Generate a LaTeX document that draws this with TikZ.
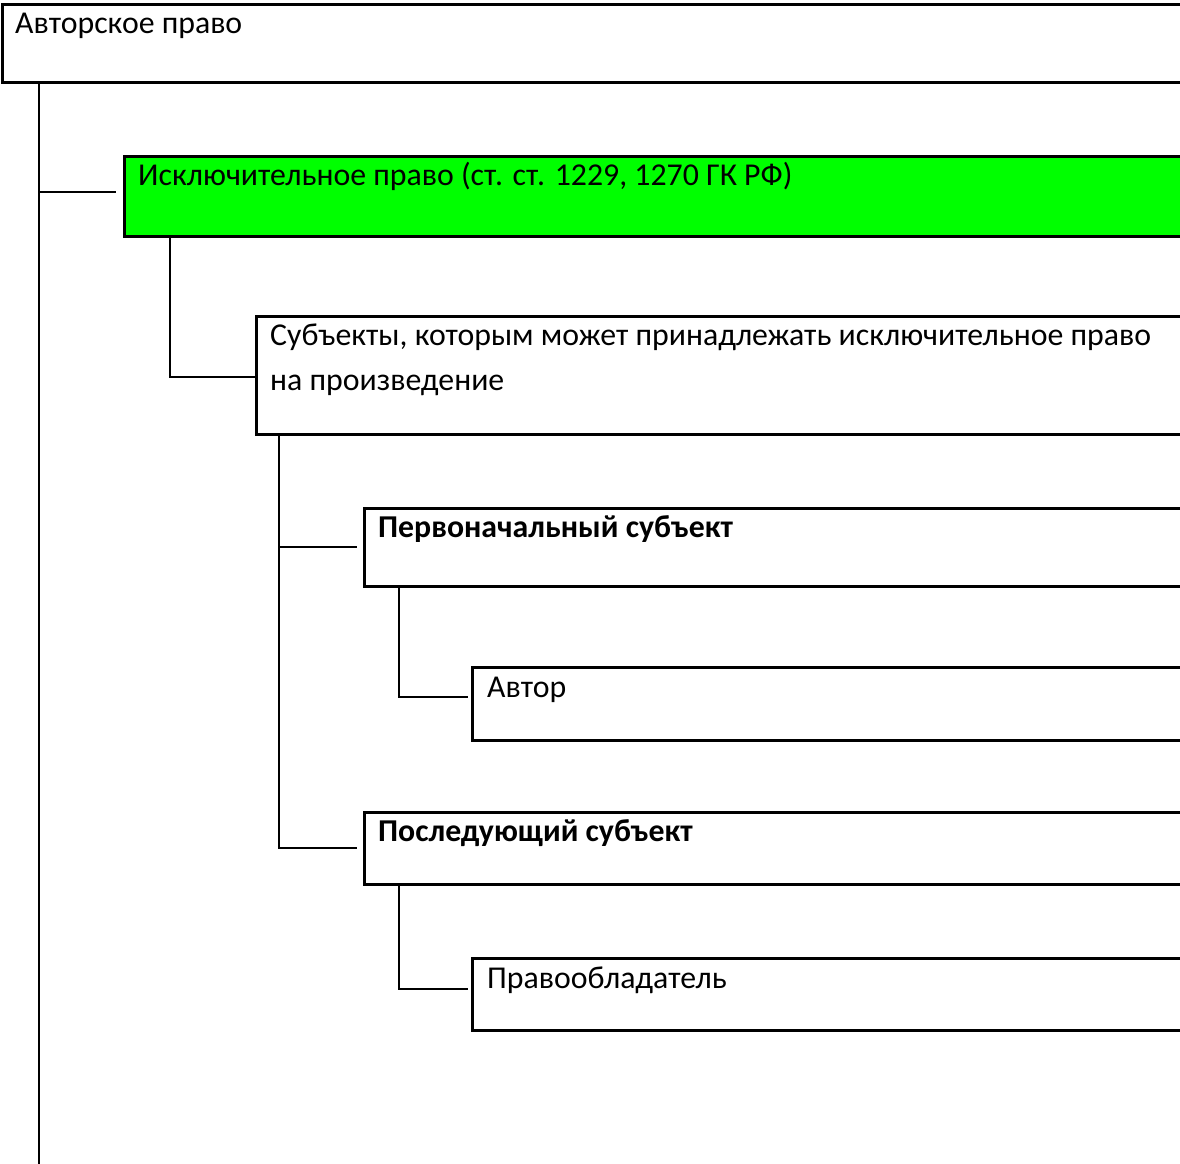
\documentclass[tikz,border=0pt]{standalone}
\usepackage{fontspec}
\setmainfont{Carlito}
\usetikzlibrary{calc}
\definecolor{brightgreen}{RGB}{0,255,0}
\begin{document}
\begin{tikzpicture}[x=1pt,y=-1pt,
  box/.style={draw=black,line width=2.5pt,rectangle,inner sep=0pt,anchor=north west},
  txt/.style={anchor=base west,inner sep=0pt,font=\fontsize{31.8}{45}\selectfont},
  btxt/.style={txt,font=\fontsize{31.8}{45}\selectfont\bfseries},
  conn/.style={draw=black,line width=2.5pt}]
\clip (0,0) rectangle (1180,1163);
\fill[white] (0,0) rectangle (1180,1163);
% boxes
\node[box,minimum width=1210pt,minimum height=78pt] (b1) at (1,3) {};
\node[box,fill=brightgreen,minimum width=1080pt,minimum height=80pt] (b2) at (123,155) {};
\node[box,minimum width=950pt,minimum height=118pt] (b3) at (255,315) {};
\node[box,minimum width=840pt,minimum height=78pt] (b4) at (363,507) {};
\node[box,minimum width=740pt,minimum height=73pt] (b5) at (471,666) {};
\node[box,minimum width=840pt,minimum height=72pt] (b6) at (363,811) {};
\node[box,minimum width=740pt,minimum height=72pt] (b7) at (471,957) {};
% texts
\node[txt] (t1) at ($(b1.north west)+(14,30)$) {Авторское право};
\node[txt] (t2) at ($(b2.north west)+(15,30)$) {Исключительное право (ст. ст. 1229, 1270 ГК РФ)};
\node[txt] (t3a) at ($(b3.north west)+(15,30)$) {Субъекты, которым может принадлежать исключительное право};
\node[txt] (t3b) at ($(b3.north west)+(15,75)$) {на произведение};
\node[btxt] (t4) at ($(b4.north west)+(15,30)$) {Первоначальный субъект};
\node[txt] (t5) at ($(b5.north west)+(16,31)$) {Автор};
\node[btxt] (t6) at ($(b6.north west)+(15,30)$) {Последующий субъект};
\node[txt] (t7) at ($(b7.north west)+(16,31)$) {Правообладатель};
% connector helper coordinates
\coordinate (trunkEnd) at (39,1170);
\coordinate (j2) at (116,192);
\coordinate (c2) at (170,377);
\coordinate (c3) at (279,848);
\coordinate (j4) at (357,547);
\coordinate (c4) at (399,697);
\coordinate (c6) at (399,989);
% connectors
\draw[conn] (b1.south west -| trunkEnd) -- (trunkEnd);
\draw[conn] (j2 -| trunkEnd) -- (j2);
\draw[conn] (b2.south west -| c2) -- (c2) -- (c2 -| b3.west);
\draw[conn] (b3.south west -| c3) -- (c3) -- (c3 -| j4);
\draw[conn] (j4 -| c3) -- (j4);
\draw[conn] (b4.south west -| c4) -- (c4) -- ([xshift=-3pt]c4 -| b5.west);
\draw[conn] (b6.south west -| c6) -- (c6) -- ([xshift=-3pt]c6 -| b7.west);
\end{tikzpicture}
\end{document}
